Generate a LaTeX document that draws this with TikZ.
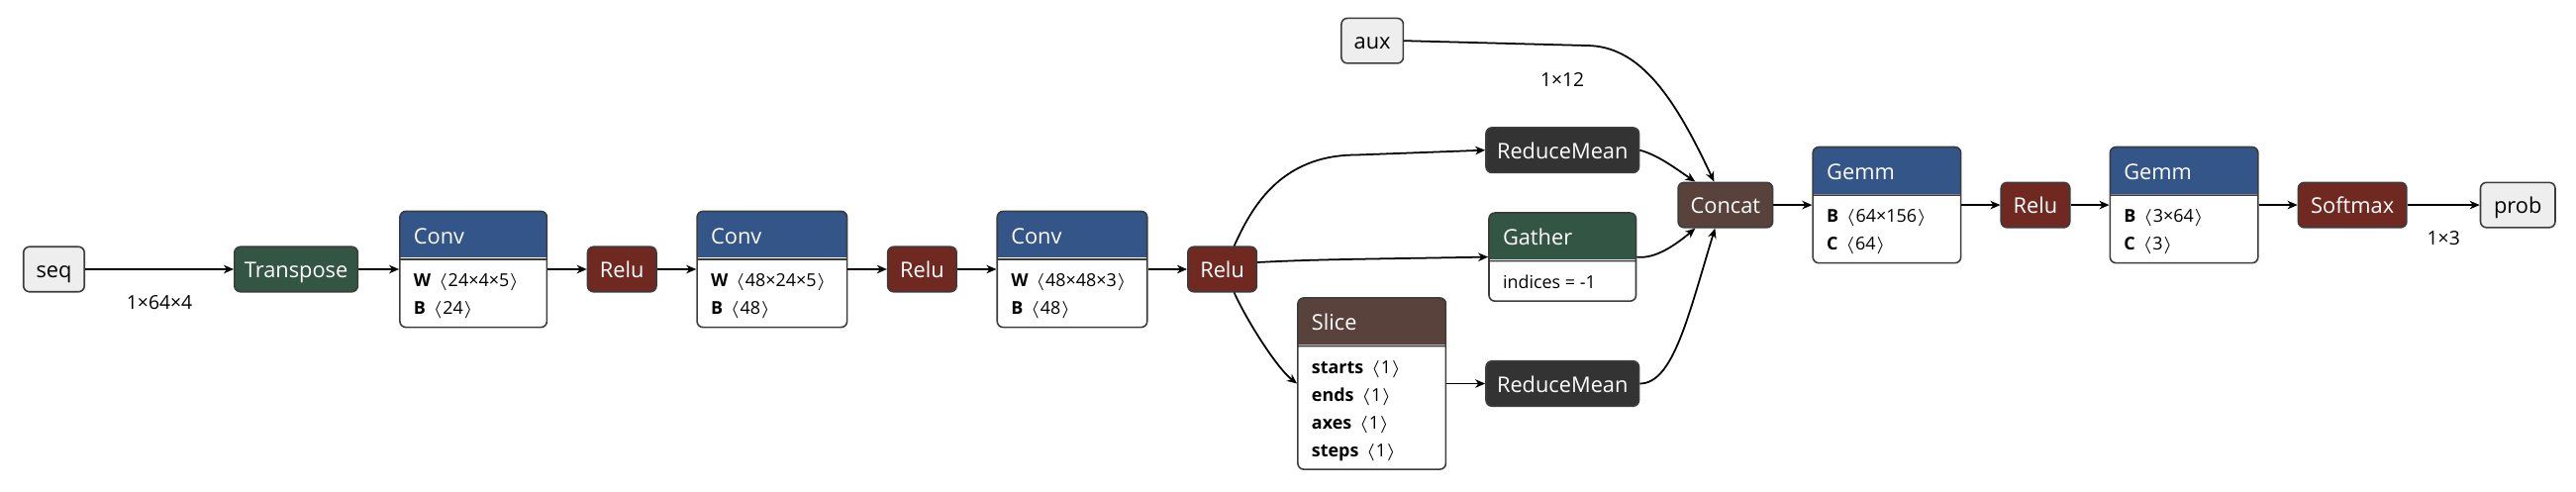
\documentclass[tikz,border=0pt]{standalone}
\usepackage{fontspec}
\setmainfont{Open Sans}
\usetikzlibrary{
  arrows.meta,
  positioning,
  shapes.multipart
}
\definecolor{nnLayer}{HTML}{335588}
\definecolor{nnAct}{HTML}{702921}
\definecolor{nnShape}{HTML}{335544}
\definecolor{nnTensor}{HTML}{59423B}
\definecolor{nnReduce}{HTML}{333333}
\definecolor{nnIO}{HTML}{EEEEEE}
\definecolor{nnLine}{HTML}{3C3C3C}
\newcommand{\titlefont}{\fontsize{6.2}{7.4}\selectfont}
\newcommand{\rowfont}{\fontsize{5.1}{6.1}\selectfont}
\newcommand{\dimfont}{\fontsize{5.5}{6.5}\selectfont}
\newcommand{\hdr}[1]{\rule[-0.15cm]{0pt}{0.47cm}#1}
\newcommand{\attr}[2]{\textbf{#1}\hspace{0.07cm}$\langle$#2$\rangle$}
\newcommand{\rows}[1]{\color{black}\rowfont\begin{minipage}[t]{1.2cm}\baselineskip=0.28cm\rule{0pt}{0.27cm}#1\rule[-0.12cm]{0pt}{0.12cm}\end{minipage}}
\tikzset{
  opnode/.style={
    draw=nnLine, line width=0.45pt, rounded corners=0.06cm, minimum height=0.455cm,
    inner sep=0pt, text height=0.175cm, text depth=0pt, font=\titlefont, text=white
  },
  iobox/.style={opnode, fill=nnIO, text=black},
  actbox/.style={opnode, fill=nnAct},
  shapebox/.style={opnode, fill=nnShape},
  tensorbox/.style={opnode, fill=nnTensor},
  reducebox/.style={opnode, fill=nnReduce},
  attrbox/.style={
    draw=nnLine, line width=0.45pt, rounded corners=0.06cm, fill=white,
    rectangle split, rectangle split parts=2, rectangle split part align={left},
    inner xsep=0.14cm, inner ysep=0pt, font=\titlefont, text=white,
    path picture={\fill[#1, sharp corners] (path picture bounding box.north west)
      rectangle ([yshift=-0.47cm]path picture bounding box.north east);}
  },
  link/.style={-{Stealth[length=0.1cm, width=0.085cm, inset=0.03cm]}, line width=0.5pt},
  dim/.style={font=\dimfont, inner sep=0pt, text=black}
}
\begin{document}
\begin{tikzpicture}[node distance=0.395cm]
  \useasboundingbox (0,-2.24) rectangle (26.02,2.72);
  % main chain
  \node[iobox, minimum width=0.615cm] (seq) at (0.545,0) {seq};
  \node[shapebox, minimum width=1.245cm, right=1.5cm of seq] (transpose) {Transpose};
  \node[attrbox=nnLayer, minimum width=1.485cm, right=0.41cm of transpose] (conv1)
    {\hdr{Conv}\nodepart{two}\rows{\attr{W}{24×4×5}\\\attr{B}{24}}};
  \node[actbox, minimum width=0.695cm, right=of conv1] (relu1) {Relu};
  \node[attrbox=nnLayer, minimum width=1.515cm, right=of relu1] (conv2)
    {\hdr{Conv}\nodepart{two}\rows{\attr{W}{48×24×5}\\\attr{B}{48}}};
  \node[actbox, minimum width=0.695cm, right=of conv2] (relu2) {Relu};
  \node[attrbox=nnLayer, minimum width=1.515cm, right=of relu2] (conv3)
    {\hdr{Conv}\nodepart{two}\rows{\attr{W}{48×48×3}\\\attr{B}{48}}};
  \node[actbox, minimum width=0.695cm, right=of conv3] (relu3) {Relu};
  % branches
  \node[attrbox=nnTensor, minimum width=1.495cm, right=0.4cm of relu3, yshift=-1.155cm] (slice)
    {\hdr{Slice}\nodepart{two}\rows{\attr{starts}{1}\\\attr{ends}{1}\\\attr{axes}{1}\\\attr{steps}{1}}};
  \node[reducebox, minimum width=1.545cm, right=0.39cm of slice] (rm2) {ReduceMean};
  \node[attrbox=nnShape, minimum width=1.485cm, above=0.59cm of rm2] (gather)
    {\hdr{Gather}\nodepart{two}\rows{indices = -1}};
  \node[reducebox, minimum width=1.545cm, above=0.39cm of gather] (rm1) {ReduceMean};
  \node[iobox, minimum width=0.625cm, left=0.82cm of rm1, yshift=1.105cm] (aux) {aux};
  \node[tensorbox, minimum width=0.955cm, right=0.41cm of gather, yshift=0.525cm] (concat) {Concat};
  % head
  \node[attrbox=nnLayer, minimum width=1.495cm, right=0.39cm of concat] (gemm1)
    {\hdr{Gemm}\nodepart{two}\rows{\attr{B}{64×156}\\\attr{C}{64}}};
  \node[actbox, minimum width=0.695cm, right=0.39cm of gemm1] (relu4) {Relu};
  \node[attrbox=nnLayer, minimum width=1.495cm, right=0.39cm of relu4] (gemm2)
    {\hdr{Gemm}\nodepart{two}\rows{\attr{B}{3×64}\\\attr{C}{3}}};
  \node[actbox, minimum width=1.095cm, right=0.39cm of gemm2] (softmax) {Softmax};
  \node[iobox, minimum width=0.755cm, right=0.73cm of softmax] (prob) {prob};

  \draw[link] (seq) -- node[dim, yshift=-0.34cm] (seqdim) {1×64×4} (transpose);
  \draw[link] (transpose) -- (conv1);
  \draw[link] (conv1) -- (relu1);
  \draw[link] (relu1) -- (conv2);
  \draw[link] (conv2) -- (relu2);
  \draw[link] (relu2) -- (conv3);
  \draw[link] (conv3) -- (relu3);
  \draw[link] ([xshift=0.12cm]relu3.north) .. controls (12.62,0.57) and (12.90,1.155) .. (13.70,1.155) -- (rm1.west);
  \draw[link] ([yshift=0.07cm]relu3.east) .. controls (13.3,0.10) and (13.6,0.10) .. (gather.west);
  \draw[link] ([xshift=0.12cm]relu3.south) .. controls (12.60,-0.53) and (12.90,-1.00) .. (slice.west);
  \draw[link] (slice) -- (rm2);
  \draw[link] (aux.east) -- (16.02,2.26) node[dim, pos=0.87, yshift=-0.35cm] (auxdim) {1×12}
    .. controls (16.55,2.26) and (16.90,1.77) .. ([xshift=-0.115cm]concat.north);
  \draw[link] (rm1.east) .. controls (16.75,1.155) and (16.95,1.0) .. ([xshift=-0.305cm]concat.north);
  \draw[link] (gather.east) .. controls (16.72,0.10) and (16.93,0.25) .. ([xshift=-0.305cm]concat.south);
  \draw[link] (rm2.east) .. controls (16.90,-1.155) and (17.05,-0.48) .. ([xshift=-0.105cm]concat.south);
  \draw[link] (concat) -- (gemm1);
  \draw[link] (gemm1) -- (relu4);
  \draw[link] (relu4) -- (gemm2);
  \draw[link] (gemm2) -- (softmax);
  \draw[link] (softmax) -- node[dim, yshift=-0.34cm] (probdim) {1×3} (prob);
\end{tikzpicture}
\end{document}
